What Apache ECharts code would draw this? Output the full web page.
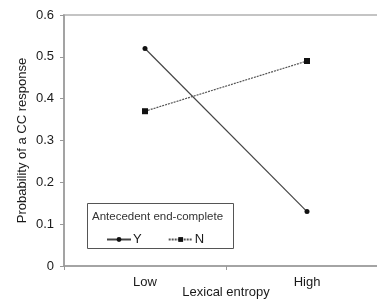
<!DOCTYPE html>
<html><head><meta charset="utf-8">
<script src="https://cdn.jsdelivr.net/npm/echarts@6/dist/echarts.min.js"></script>
<style>html,body{margin:0;padding:0;background:#fff}#c{width:377px;height:299px}</style>
</head><body><div id="c"></div>
<script>
var categories = ['Low', 'High'];
var seriesY = [0.52, 0.13];
var seriesN = [0.37, 0.49];
var yTicks = [0, 0.1, 0.2, 0.3, 0.4, 0.5, 0.6];

var chart = echarts.init(document.getElementById('c'));
var font = 'Liberation Sans, Arial, sans-serif';
chart.setOption({
  animation: false,
  backgroundColor: '#fff',
  grid: {left: 64, top: 15, width: 324, height: 251, outerBoundsMode: 'none', containLabel: false,
    show: true, borderColor: '#c4c4c4', borderWidth: 2, backgroundColor: 'transparent'},
  xAxis: {
    type: 'category', data: categories, boundaryGap: true,
    name: 'Lexical entropy', nameLocation: 'middle', nameGap: 20, nameMoveOverlap: false,
    nameTextStyle: {fontFamily: font, fontSize: 13, color: '#1a1a1a'},
    axisLine: {lineStyle: {color: '#999', width: 1.5}},
    axisTick: {show: true, interval: 0, length: 4, lineStyle: {color: '#999'}},
    axisLabel: {fontFamily: font, fontSize: 13, color: '#1a1a1a', margin: 10},
    splitLine: {show: false}
  },
  yAxis: {
    type: 'value', min: 0, max: 0.6, interval: 0.1,
    name: 'Probability of a CC response', nameLocation: 'middle', nameGap: 35, nameMoveOverlap: false,
    nameTextStyle: {fontFamily: font, fontSize: 13, color: '#1a1a1a'},
    axisLine: {show: true, lineStyle: {color: '#999', width: 1.5}},
    axisTick: {show: true, length: 4, lineStyle: {color: '#999'}},
    axisLabel: {fontFamily: font, fontSize: 13, color: '#1a1a1a', margin: 10,
      formatter: function (v) { var r = Math.round(v*10)/10; return yTicks.indexOf(r) >= 0 ? String(r) : ''; }},
    splitLine: {show: false}
  },
  legend: {
    left: 101, top: 228, itemWidth: 24, itemHeight: 6, itemGap: 26,
    textStyle: {fontFamily: font, fontSize: 13, color: '#1a1a1a', padding: [0, 0, 0, -3]},
    data: ['Y', 'N']
  },
  graphic: [
    {type: 'rect', shape: {x: 87.5, y: 203.5, width: 146, height: 45}, style: {fill: '#fff', stroke: '#555', lineWidth: 1}, z: 0},
    {type: 'text', left: 92, top: 211, style: {text: 'Antecedent end-complete', font: '11.5px ' + font, fill: '#333'}, z: 1}
  ],
  series: [
    {name: 'Y', type: 'line', data: seriesY, symbol: 'circle', symbolSize: 5,
      lineStyle: {color: '#444', width: 1.2, type: 'solid'}, itemStyle: {color: '#111'}, z: 3},
    {name: 'N', type: 'line', data: seriesN, symbol: 'rect', symbolSize: 6,
      lineStyle: {color: '#555', width: 1.2, type: [2, 1]}, itemStyle: {color: '#111'}, z: 3}
  ]
});
</script></body></html>
